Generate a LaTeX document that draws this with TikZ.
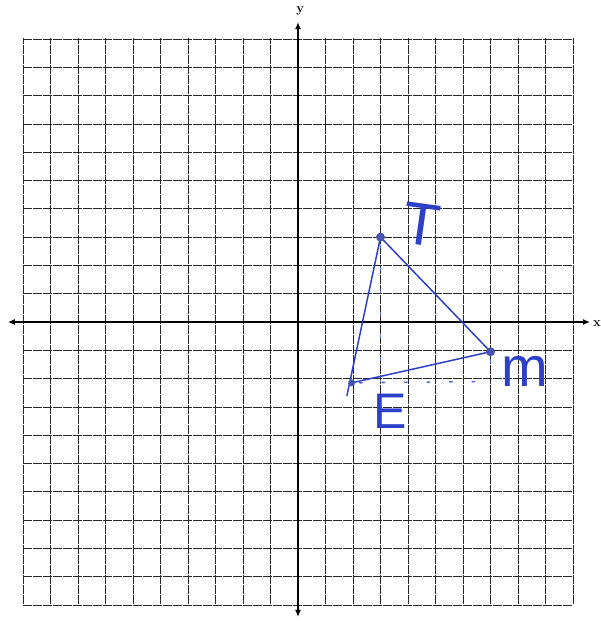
\documentclass[tikz,border=0pt]{standalone}
\usepackage{fontspec}
\setmainfont{Latin Modern Roman}
\newfontfamily\handfont{Liberation Sans}
\usetikzlibrary{arrows.meta}
\definecolor{pen}{RGB}{45,65,200}
\definecolor{pendot}{RGB}{70,85,175}
\tikzset{
  gridline/.style={black!85, line width=0.8pt, dash pattern=on 9pt off 1pt},
  axisline/.style={black, line width=1.4pt, {Latex[length=7pt,width=6pt]}-{Latex[length=7pt,width=6pt]}},
  axislabel/.style={font=\fontsize{13}{13}\selectfont\bfseries, inner sep=0pt},
  penline/.style={pen, line width=1.5pt, line cap=round},
  helper/.style={pen!80, line width=1.6pt, line cap=round, dash pattern=on 2.5pt off 20pt, dash phase=-8pt},
  pendotstyle/.style={fill=pendot},
  handlabel/.style={pen, inner sep=0pt, font=\handfont}
}
\begin{document}
\begin{tikzpicture}[x=27.5pt, y=28.3pt]
  \useasboundingbox (-10.836,-10.565) rectangle (11.018,11.378);
  % grid
  \foreach \i in {-10,...,10} {
    \draw[gridline] (\i,-9.95) -- (\i,10.05);
    \draw[gridline] (-10,\i) -- (10,\i);
  }
  % axes
  \coordinate (xl) at (-10.55,0);
  \coordinate (xr) at (10.62,0);
  \coordinate (yb) at (0,-10.42);
  \coordinate (yt) at (0,10.6);
  \draw[axisline] (xl) -- (xr);
  \draw[axisline] (yb) -- (yt);
  \node[axislabel] (ylab) at (0.08,11.0) {y};
  \node[axislabel, anchor=west] (xlab) at (10.72,-0.05) {x};
  % points
  \coordinate (T) at (3,3);
  \coordinate (M) at (7,-1.05);
  \coordinate (E) at (1.95,-2.15);
  \coordinate (Etail) at (1.78,-2.6);
  \coordinate (Tfoot) at (3,-2.1);
  \coordinate (Mfoot) at (7,-2.1);
  % helper dashes
  \draw[helper] (T) -- (Tfoot);
  \draw[helper] (E) -- (Mfoot);
  \draw[helper] (M) -- (Mfoot);
  % triangle
  \draw[penline] (T) -- (M);
  \draw[penline] (M) -- (E);
  \draw[penline] (T) -- (Etail);
  \fill[pendotstyle] (T) circle (4.5pt);
  \fill[pendotstyle] (M) circle (4.5pt);
  \fill[pendotstyle] (E) circle (3.5pt);
  % labels
  \node[handlabel, font=\handfont\fontsize{60}{60}\selectfont, rotate=-8] (Tlab) at (4.5,3.45) {T};
  \node[handlabel, font=\handfont\fontsize{56}{56}\selectfont] (Mlab) at (8.25,-1.75) {m};
  \node[handlabel, font=\handfont\fontsize{50}{50}\selectfont] (Elab) at (3.35,-3.15) {E};
\end{tikzpicture}
\end{document}
